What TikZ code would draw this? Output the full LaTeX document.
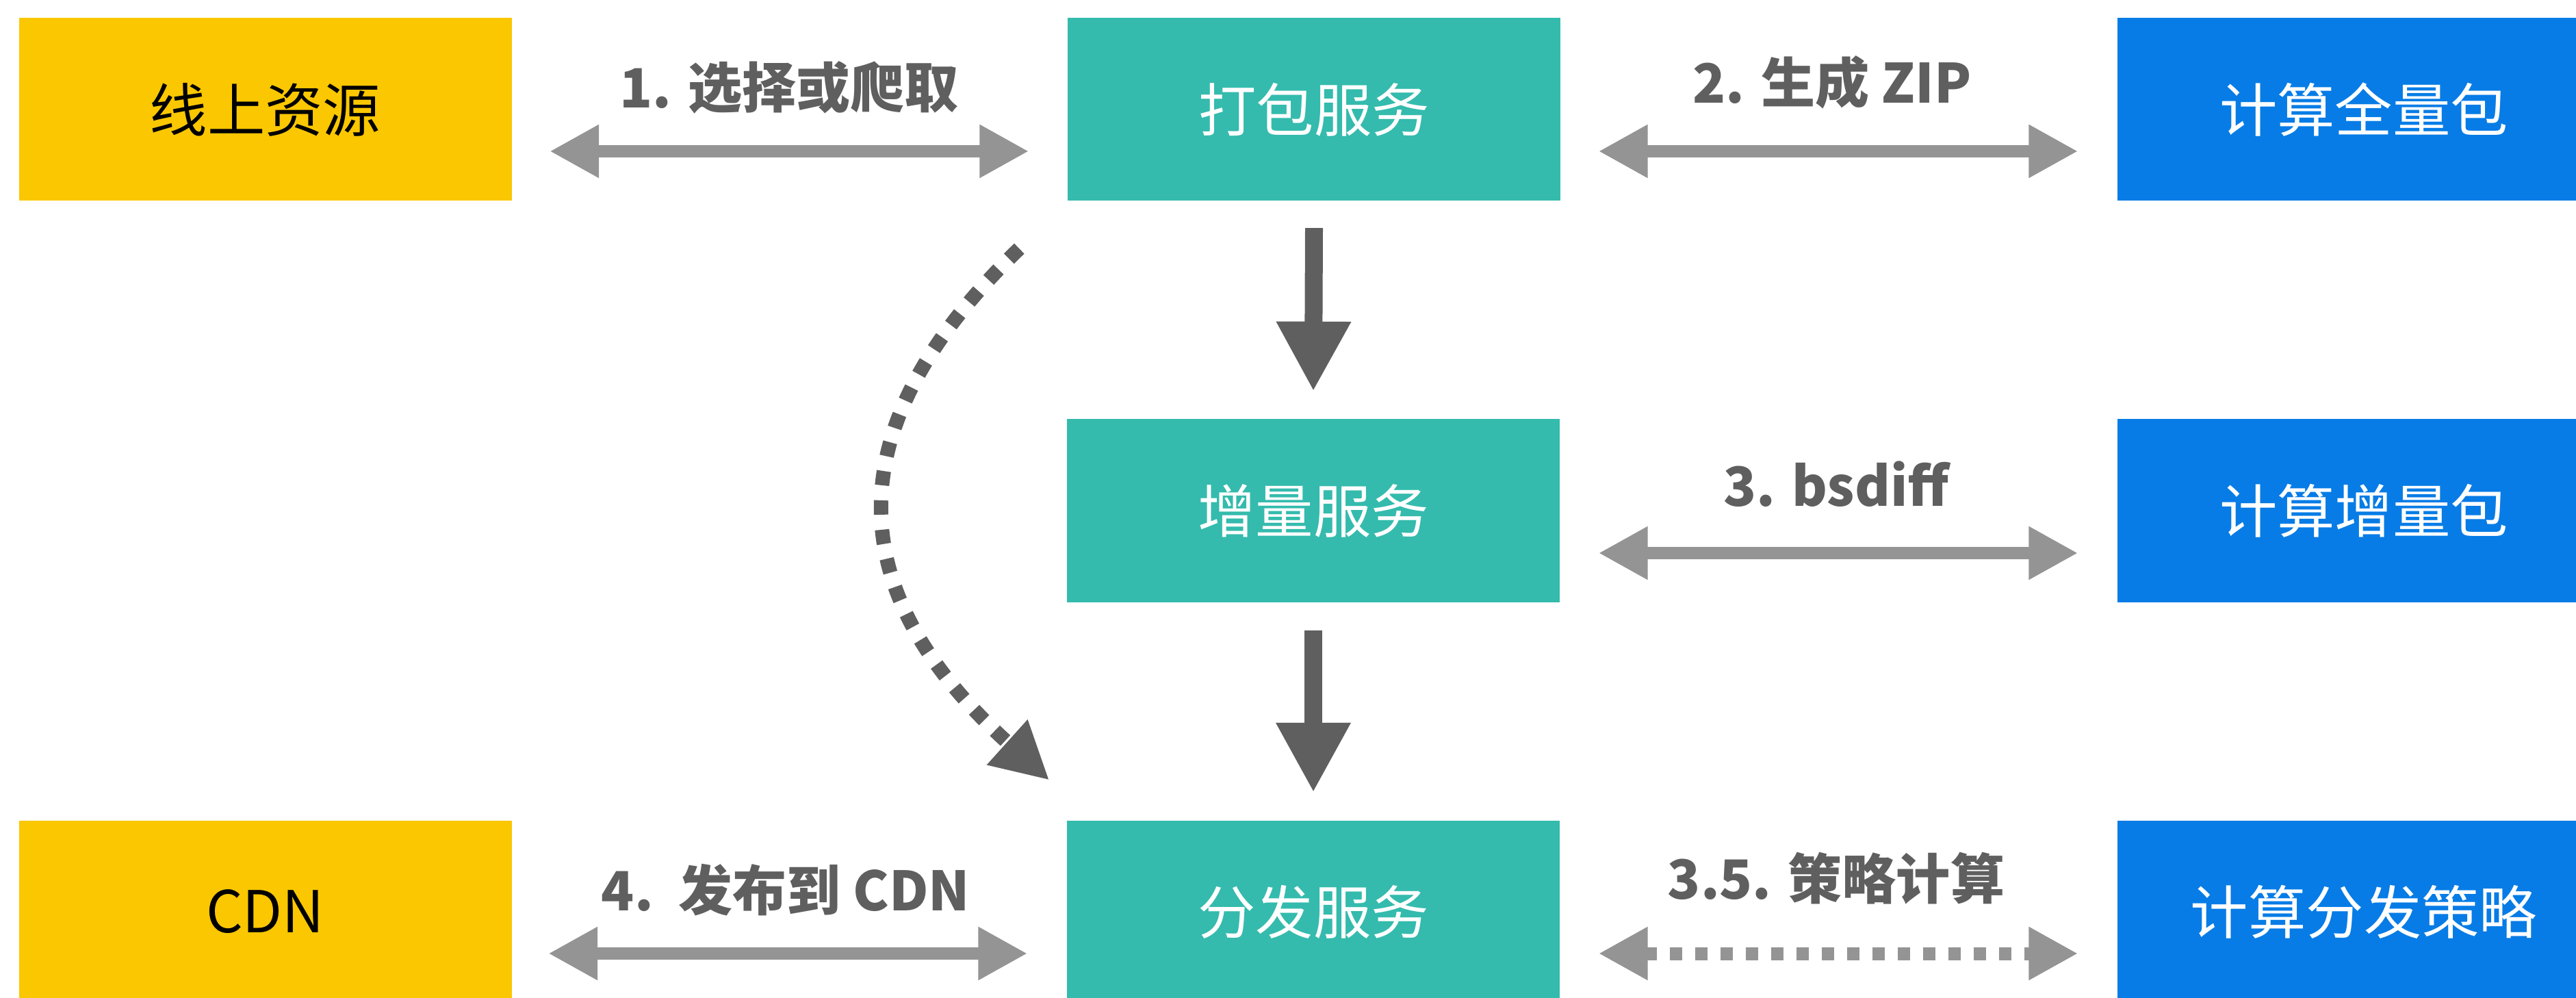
\documentclass[tikz,border=0pt]{standalone}
\usepackage{fontspec}
\usepackage{tikz}
\usetikzlibrary{arrows.meta}
\newfontfamily\cjk{Noto Sans CJK SC}
\definecolor{jaune}{HTML}{FAC700}
\definecolor{vert}{HTML}{34BBAD}
\definecolor{bleu}{HTML}{077CE6}
\definecolor{grisf}{HTML}{5F5F5F}
\definecolor{grisc}{HTML}{949494}

\begin{document}
\begin{tikzpicture}[
  boite/.style={minimum width=7.2cm,minimum height=2.67cm,inner sep=0pt,font=\cjk\fontsize{24}{28}\selectfont},
  etiq/.style={text=grisf,inner sep=0pt,font=\cjk\bfseries\fontsize{22.5}{27}\selectfont},
  fleche/.style={color=grisc,line width=0.18cm,{Triangle[length=0.72cm,width=0.73cm]}-{Triangle[length=0.72cm,width=0.73cm]}},
  descente/.style={color=grisf,line width=0.26cm,-{Triangle[length=1.02cm,width=1.02cm]}}
]
\useasboundingbox (0,0) rectangle (37.64,14.57);

\node[boite,fill=jaune] (res) at (3.875,12.97) {线上资源};
\node[boite,fill=vert,text=white] (pack) at (19.2,12.97) {打包服务};
\node[boite,fill=bleu,text=white] (full) at (34.54,12.97) {计算全量包};
\node[boite,fill=vert,text=white] (diff) at (19.19,7.11) {增量服务};
\node[boite,fill=bleu,text=white] (delta) at (34.54,7.11) {计算增量包};
\node[boite,fill=jaune] (cdn) at (3.875,1.25) {CDN};
\node[boite,fill=vert,text=white] (dist) at (19.19,1.25) {分发服务};
\node[boite,fill=bleu,text=white] (strat) at (34.54,1.25) {计算分发策略};

\node[etiq] (l1) at (11.53,13.29) {1. 选择或爬取};
\node[etiq] (l2) at (26.77,13.37) {2. 生成 ZIP};
\node[etiq] (l3) at (26.83,7.50) {3. bsdiff};
\node[etiq] (l35) at (26.83,1.74) {3.5. 策略计算};
\node[etiq] (l4) at (11.48,1.57) {4.\ \ 发布到 CDN};

\draw[fleche] ([shift={(0.55,-0.61)}]res.east) -- ([shift={(-0.56,-0.61)}]pack.west);
\draw[fleche] ([shift={(0.55,-0.61)}]pack.east) -- ([shift={(-0.57,-0.61)}]full.west);
\draw[fleche] ([shift={(0.56,-0.62)}]diff.east) -- ([shift={(-0.57,-0.62)}]delta.west);
\draw[fleche] ([shift={(0.53,-0.61)}]cdn.east) -- ([shift={(-0.57,-0.61)}]dist.west);
\draw[fleche,line width=0.19cm,dash pattern=on 0.18cm off 0.19cm] ([shift={(0.56,-0.61)}]dist.east) -- ([shift={(-0.57,-0.61)}]strat.west);

\draw[descente] ([yshift=-0.39cm]pack.south) -- ([yshift=0.40cm]diff.north);
\draw[descente] ([yshift=-0.41cm]diff.south) -- ([yshift=0.40cm]dist.north);

\coordinate (debut) at ([shift={(-0.70,-0.69)}]pack.south west);
\coordinate (fin) at ([shift={(-0.25,0.58)}]dist.north west);
\draw[color=grisf,line width=0.21cm,dash pattern=on 0.21cm off 0.22cm,-{Triangle[length=0.83cm,width=0.83cm]}] (debut) to[out=224,in=138,looseness=1.3] (fin);

\end{tikzpicture}
\end{document}
